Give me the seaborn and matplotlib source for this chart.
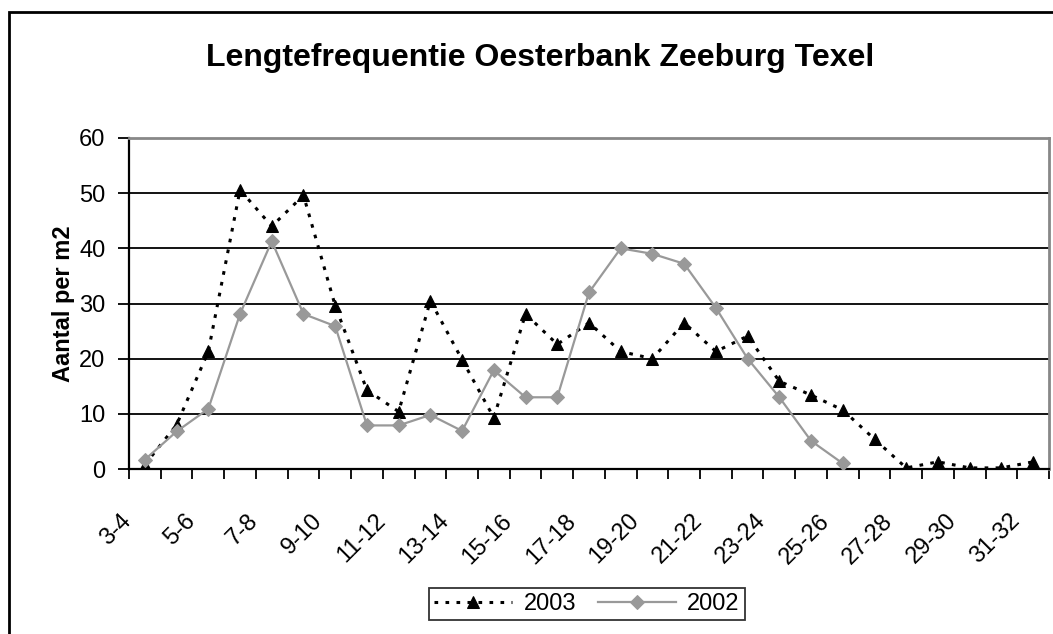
import pandas as pd
import matplotlib.pyplot as plt
import matplotlib.patches as patches
import matplotlib.transforms as mtransforms
import seaborn as sns

categories = ['3-4', '4-5', '5-6', '6-7', '7-8', '8-9', '9-10', '10-11', '11-12',
              '12-13', '13-14', '14-15', '15-16', '16-17', '17-18', '18-19', '19-20',
              '20-21', '21-22', '22-23', '23-24', '24-25', '25-26', '26-27', '27-28',
              '28-29', '29-30', '30-31', '31-32']
v2003 = [0.8, 8.0, 21.3, 50.6, 44.0, 49.6, 29.6, 14.3, 10.4, 30.5, 19.8, 9.3, 28.1, 22.6,
         26.5, 21.3, 20.0, 26.5, 21.3, 24.1, 15.9, 13.4, 10.7, 5.4, 0.2, 1.3, 0.2, 0.2, 1.3]
v2002 = [1.7, 6.8, 10.9, 28.1, 41.3, 28.1, 25.9, 7.9, 7.9, 9.8, 6.9, 17.9, 13.0, 13.0,
         32.0, 40.0, 39.0, 37.2, 29.2, 20.0, 13.0, 5.1, 1.0]

plt.rcParams['font.family'] = ['Liberation Sans', 'DejaVu Sans']

df03 = pd.DataFrame({'x': range(len(v2003)), 'y': v2003})
df02 = pd.DataFrame({'x': range(len(v2002)), 'y': v2002})

fig = plt.figure(figsize=(10.53, 6.34), dpi=100)
ax = fig.add_axes([129 / 1053, 1 - 469 / 634, (1049 - 129) / 1053, (469 - 138) / 634])

ax.grid(axis='y', color='black', linewidth=1.3, zorder=0)
ax.set_axisbelow(True)

sns.lineplot(data=df03, x='x', y='y', ax=ax, color='black', linewidth=2.2,
             linestyle=(0, (1.2, 2.4)), marker='^', markersize=9,
             markeredgecolor='black', label='2003', zorder=3)
sns.lineplot(data=df02, x='x', y='y', ax=ax, color='#999999', linewidth=1.6,
             marker='D', markersize=7.5, markeredgecolor='#999999', label='2002', zorder=3)

ax.set_xlim(-0.5, len(categories) - 0.5)
ax.set_ylim(0, 60)
ax.set_yticks(range(0, 61, 10))
ax.set_xticks(range(0, len(categories), 2))
ax.set_xticklabels(categories[::2], rotation=45, ha='right', va='center',
                   rotation_mode='anchor', fontsize=17)
ax.set_xticks([i - 0.5 for i in range(len(categories) + 1)], minor=True)
ax.tick_params(axis='x', which='major', length=0, pad=35)
ax.tick_params(axis='x', which='minor', length=7, width=1.3, direction='out', color='black')
ax.tick_params(axis='y', length=8, width=1.3, direction='out', labelsize=17, pad=9)

# shift the rotated labels left so they end just before their category
shift = mtransforms.ScaledTranslation(-12 / 72, 0, fig.dpi_scale_trans)
for lab in ax.get_xticklabels():
    lab.set_transform(lab.get_transform() + shift)

ax.set_xlabel('')
ax.set_ylabel('Aantal per m2', fontsize=17, fontweight='bold', labelpad=3)

for side in ['left', 'bottom']:
    ax.spines[side].set_color('black')
    ax.spines[side].set_linewidth(1.6)
for side in ['top', 'right']:
    ax.spines[side].set_color('#888888')
    ax.spines[side].set_linewidth(2)

fig.text(0.513, 1 - 58 / 634, 'Lengtefrequentie Oesterbank Zeeburg Texel',
         ha='center', va='center', fontsize=23, fontweight='bold')

leg = ax.legend(loc='center', bbox_to_anchor=(587 / 1053, 1 - 604 / 634),
                bbox_transform=fig.transFigure, ncol=2, frameon=True, fancybox=False,
                fontsize=17, handlelength=3.3, columnspacing=0.9, handletextpad=0.5,
                borderpad=0.2, borderaxespad=0)
leg.get_frame().set_edgecolor('black')
leg.get_frame().set_linewidth(1.3)

fig.patches.append(patches.Rectangle((9 / 1053, -0.1), 1.2, 1.1 - 12 / 634, fill=False,
                                     edgecolor='black', linewidth=2,
                                     transform=fig.transFigure, figure=fig))

fig.savefig('out.png', dpi=100)
plt.close()
